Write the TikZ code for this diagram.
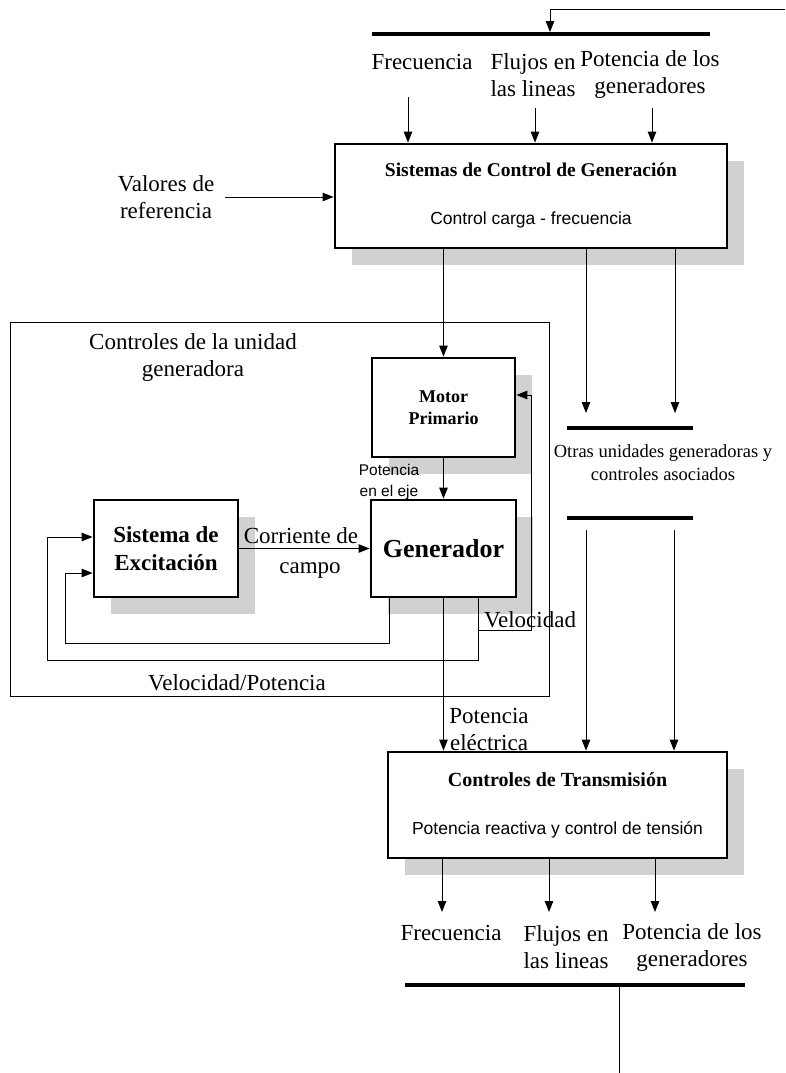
\documentclass[tikz,border=0pt]{standalone}
\usepackage{fontspec}
\setmainfont{Liberation Serif}
\newfontfamily\arialf{Liberation Sans}
\usetikzlibrary{positioning, calc, arrows.meta, shadows}

\begin{document}
\begin{tikzpicture}
    [x=1pt, y=-1pt, >={Triangle[length=11pt,width=8.5pt]},
    bloque/.style={rectangle, draw=black, line width=2.8pt, fill=white, inner sep=0pt, align=center,
        drop shadow={shadow xshift=17pt, shadow yshift=-17pt, fill=black!18, opacity=1}},
    barra/.style={rectangle, fill=black, inner sep=0pt, minimum height=3.5pt},
    rotulo/.style={font=\fontsize{23}{27}\selectfont, align=center, inner sep=0pt},
    linea/.style={line width=1pt},]

    \useasboundingbox (0,0) rectangle (785,1073);

    %Nodes
    \node[draw, line width=1pt, minimum width=539pt, minimum height=374pt, inner sep=0pt](unidad) at (279.5,509){};

    \node[bloque, minimum width=392pt, minimum height=104pt, font=\fontsize{19.5}{22}\selectfont](scg) at (531,196)
        {\textbf{Sistemas de Control de Generación}\\[26pt]{\arialf\fontsize{17.5}{21}\selectfont Control carga - frecuencia}};
    \node[bloque, minimum width=143pt, minimum height=99pt, font=\fontsize{18}{22}\selectfont\bfseries](mot) at (443.5,407.5){Motor\\Primario};
    \node[bloque, minimum width=145pt, minimum height=97pt, font=\fontsize{26}{30}\selectfont\bfseries](gen) at (443.5,548.5){Generador};
    \node[bloque, minimum width=144pt, minimum height=97pt, font=\fontsize{23}{28}\selectfont\bfseries](exc) at (166,548.5){Sistema de\\Excitación};
    \node[bloque, minimum width=339pt, minimum height=106pt, font=\fontsize{20}{22}\selectfont](trans) at (557.5,805)
        {\textbf{Controles de Transmisión}\\[26pt]{\arialf\fontsize{17.5}{21}\selectfont Potencia reactiva y control de tensión}};

    \node[barra, minimum width=338pt](busTop) at (541,34){};
    \node[barra, minimum width=126pt](busA) at (630,428){};
    \node[barra, minimum width=126pt](busB) at (630,518){};
    \node[barra, minimum width=340pt](busBot) at (575,985){};

    %Labels
    \node[rotulo](frecA) at (422,62){Frecuencia};
    \node[rotulo](flujA) at (533,75){Flujos en\\las lineas};
    \node[rotulo](potA) at (650,75){Potencia de los\\generadores};
    \node[rotulo](val) at (166,197){Valores de\\referencia};
    \node[rotulo](titU) at (193,357){Controles de la unidad\\generadora};
    \node[font=\arialf\fontsize{15.5}{21}\selectfont, align=center, inner sep=0pt](peje) at (389,482){Potencia\\en el eje};
    \node[rotulo](cor) at (301,536){Corriente de};
    \node[rotulo](cam) at (310,571){campo};
    \node[rotulo](vel) at (530,620){Velocidad};
    \node[rotulo](vp) at (237,683){Velocidad/Potencia};
    \node[rotulo](pel) at (489,729){Potencia\\eléctrica};
    \node[font=\fontsize{18.5}{23}\selectfont, align=center, inner sep=0pt](otras) at (663,463){Otras unidades generadoras y\\controles asociados};
    \node[rotulo](frecB) at (451,933){Frecuencia};
    \node[rotulo](flujB) at (566,947){Flujos en\\las lineas};
    \node[rotulo](potB) at (692,947){Potencia de los\\generadores};

    %Coordinates
    \coordinate (ret) at (785,10);
    \coordinate (e1) at (408,97);
    \coordinate (e2) at (535,108);
    \coordinate (e3) at (652,108);
    \coordinate (o1) at (586,413);
    \coordinate (o2) at (675,413);
    \coordinate (o3) at (586,530);
    \coordinate (o4) at (674,530);
    \coordinate (s1) at (442,912);
    \coordinate (s2) at (549,912);
    \coordinate (s3) at (655,912);
    \coordinate (sal) at (619,1073);
    \coordinate (c1) at (389,643);
    \coordinate (c2) at (65,643);
    \coordinate (c3) at (478,660);
    \coordinate (c4) at (47,660);
    \coordinate (c5) at (478,630);

    %Lines
    \draw[linea,->] (ret) -| ([xshift=9pt]busTop.north);
    \draw[linea,->] (e1) -- (e1 |- scg.north);
    \draw[linea,->] (e2) -- (e2 |- scg.north);
    \draw[linea,->] (e3) -- (e3 |- scg.north);
    \draw[linea,->] ([xshift=11pt]val.east) -- (val.east -| scg.west);

    \draw[linea,->] (scg.south -| mot.north) -- (mot.north);
    \draw[linea,->] (o1 |- scg.south) -- (o1);
    \draw[linea,->] (o2 |- scg.south) -- (o2);
    \draw[linea,->] (o3) -- (o3 |- trans.north);
    \draw[linea,->] (o4) -- (o4 |- trans.north);

    \draw[linea,->] (mot.south) -- (gen.north);
    \draw[linea,->] (exc.east) -- (gen.west);
    \draw[linea,->] (gen.south -| c1) -- (c1) -- (c2) |- ([yshift=-24.5pt]exc.west);
    \draw[linea,->] (gen.south -| c3) -- (c3) -- (c4) |- ([yshift=11.5pt]exc.west);
    \draw[linea,->] (c5) -| ([xshift=15pt,yshift=12.5pt]mot.east) -- ([yshift=12.5pt]mot.east);
    \draw[linea,->] (gen.south) -- (gen.south |- trans.north);

    \draw[linea,->] (s1 |- trans.south) -- (s1);
    \draw[linea,->] (s2 |- trans.south) -- (s2);
    \draw[linea,->] (s3 |- trans.south) -- (s3);
    \draw[line width=0.6pt] (busBot.south -| sal) -- (sal);
\end{tikzpicture}
\end{document}
